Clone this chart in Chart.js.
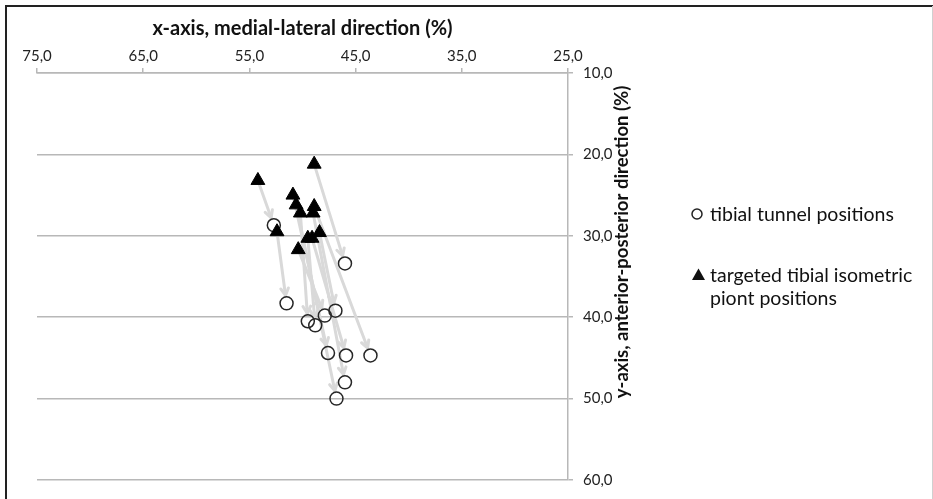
<!DOCTYPE html>
<html>
<head>
<meta charset="utf-8">
<script src="https://cdn.jsdelivr.net/npm/chart.js@4/dist/chart.umd.min.js"></script>
<style>
  html, body { margin: 0; padding: 0; background: #fff; }
  #wrap { width: 933px; height: 499px; }
</style>
</head>
<body>
<div id="wrap"><canvas id="chartTunnels" width="933" height="499"></canvas></div>
<script>
const targetX = [54.2, 48.9, 52.4, 50.9, 50.6, 50.2, 48.9, 49.0, 49.5, 49.1, 48.4, 50.4]
const targetY = [23.2, 21.2, 29.5, 25.0, 26.2, 27.2, 26.4, 27.2, 30.3, 30.3, 29.6, 31.7]
const tunnelX = [52.7, 46.0, 51.5, 47.6, 46.8, 49.5, 43.6, 46.0, 48.8, 45.9, 46.9, 47.9]
const tunnelY = [28.7, 33.4, 38.3, 44.4, 50.0, 40.5, 44.7, 48.0, 41.0, 44.7, 39.2, 39.8]
const xTicks = [75, 65, 55, 45, 35, 25]
const yTicks = [10, 20, 30, 40, 50, 60]
const legendLabels = ['tibial tunnel positions', ['targeted tibial isometric', 'piont positions']]
const xTitle = 'x-axis, medial-lateral direction (%)'
const yTitle = 'y-axis, anterior-posterior direction (%)'

const FONT = 'Lato, "Open Sans", sans-serif'
const fmt = v => Number(v).toFixed(1).replace('.', ',')

function intChart() {
  const toPoints = (xs, ys) => xs.map((x, i) => ({ x: x, y: ys[i] }))

  // grey arrows from each target point to its tunnel
  const arrows = {
    id: 'arrows',
    beforeDatasetsDraw(chart) {
      const ctx = chart.ctx
      const sx = chart.scales.x
      const sy = chart.scales.y
      ctx.save()
      ctx.strokeStyle = '#d9d9d9'
      ctx.lineWidth = 3
      ctx.lineCap = 'round'
      targetX.forEach((tx, i) => {
        const x0 = sx.getPixelForValue(tx)
        const y0 = sy.getPixelForValue(targetY[i])
        const x1 = sx.getPixelForValue(tunnelX[i])
        const y1 = sy.getPixelForValue(tunnelY[i])
        const a = Math.atan2(y1 - y0, x1 - x0)
        const ex = x1 - Math.cos(a) * 8
        const ey = y1 - Math.sin(a) * 8
        ctx.beginPath()
        ctx.moveTo(x0, y0)
        ctx.lineTo(ex, ey)
        ctx.stroke()
        ctx.beginPath()
        ctx.moveTo(ex - Math.cos(a - 0.5) * 8, ey - Math.sin(a - 0.5) * 8)
        ctx.lineTo(ex, ey)
        ctx.lineTo(ex - Math.cos(a + 0.5) * 8, ey - Math.sin(a + 0.5) * 8)
        ctx.stroke()
      })
      ctx.restore()
    }
  }

  // frame, rotated y title and the legend on the right
  const extras = {
    id: 'extras',
    afterDraw(chart) {
      const ctx = chart.ctx
      ctx.save()
      ctx.strokeStyle = '#222'
      ctx.lineWidth = 2
      ctx.beginPath()
      ctx.moveTo(6, 499)
      ctx.lineTo(6, 6)
      ctx.lineTo(933, 6)
      ctx.stroke()
      ctx.strokeStyle = '#d0d0d0'
      ctx.lineWidth = 1
      ctx.beginPath()
      ctx.moveTo(932.5, 6)
      ctx.lineTo(932.5, 499)
      ctx.stroke()

      ctx.translate(622, 242)
      ctx.rotate(-Math.PI / 2)
      ctx.fillStyle = '#111'
      ctx.font = 'bold 18.5px ' + FONT
      ctx.textAlign = 'center'
      ctx.textBaseline = 'middle'
      ctx.fillText(yTitle, 0, 0)
      ctx.setTransform(1, 0, 0, 1, 0, 0)

      ctx.fillStyle = '#111'
      ctx.font = '19.5px ' + FONT
      ctx.textAlign = 'left'
      ctx.textBaseline = 'middle'
      ctx.strokeStyle = '#222'
      ctx.lineWidth = 1.5
      ctx.beginPath()
      ctx.arc(697, 214, 5, 0, Math.PI * 2)
      ctx.stroke()
      ctx.fillText(legendLabels[0], 710, 215)

      ctx.beginPath()
      ctx.moveTo(698.5, 268.5)
      ctx.lineTo(705, 280)
      ctx.lineTo(692, 280)
      ctx.closePath()
      ctx.fill()
      legendLabels[1].forEach((line, i) => ctx.fillText(line, 710, 276 + i * 23))
      ctx.restore()
    }
  }

  const canvas = document.getElementById('chartTunnels')
  const config = {
    type: 'scatter',
    data: {
      datasets: [{
        label: 'targeted tibial isometric piont positions',
        data: toPoints(targetX, targetY),
        pointStyle: 'triangle',
        pointRadius: 8,
        backgroundColor: '#000',
        borderColor: '#000',
        borderWidth: 1,
        order: 0
      }, {
        label: 'tibial tunnel positions',
        data: toPoints(tunnelX, tunnelY),
        pointStyle: 'circle',
        pointRadius: 6.5,
        backgroundColor: 'rgba(0,0,0,0)',
        borderColor: '#262626',
        borderWidth: 1.5,
        order: 1
      }]
    },
    options: {
      responsive: false,
      animation: false,
      layout: { padding: { left: 37, right: 0, top: 0, bottom: 14 } },
      plugins: { legend: { display: false }, tooltip: { enabled: false } },
      scales: {
        x: {
          type: 'linear',
          position: 'top',
          reverse: true,
          min: 25,
          max: 75,
          afterBuildTicks: scale => { scale.ticks = xTicks.map(v => ({ value: v })) },
          afterFit: scale => { scale.height = 73 },
          ticks: { callback: fmt, color: '#222', font: { family: FONT, size: 15 }, padding: 3, maxRotation: 0 },
          grid: { drawOnChartArea: false, tickLength: 5, color: '#b8b8b8', lineWidth: 1.5 },
          border: { color: '#b8b8b8', width: 1.5 },
          title: { display: true, text: xTitle, color: '#111', font: { family: FONT, size: 20, weight: 'bold' }, padding: { top: 17, bottom: 0 } }
        },
        y: {
          type: 'linear',
          position: 'right',
          reverse: true,
          min: 10,
          max: 60,
          afterBuildTicks: scale => { scale.ticks = yTicks.map(v => ({ value: v })) },
          afterFit: scale => { scale.width = 365 },
          ticks: { callback: fmt, color: '#222', font: { family: FONT, size: 15 }, padding: 10 },
          grid: { color: '#b8b8b8', lineWidth: 1.5, tickLength: 5 },
          border: { color: '#b8b8b8', width: 1.5 }
        }
      }
    },
    plugins: [arrows, extras]
  }
  const myChart = new Chart(canvas.getContext('2d'), config)
}

intChart()
</script>
</body>
</html>
